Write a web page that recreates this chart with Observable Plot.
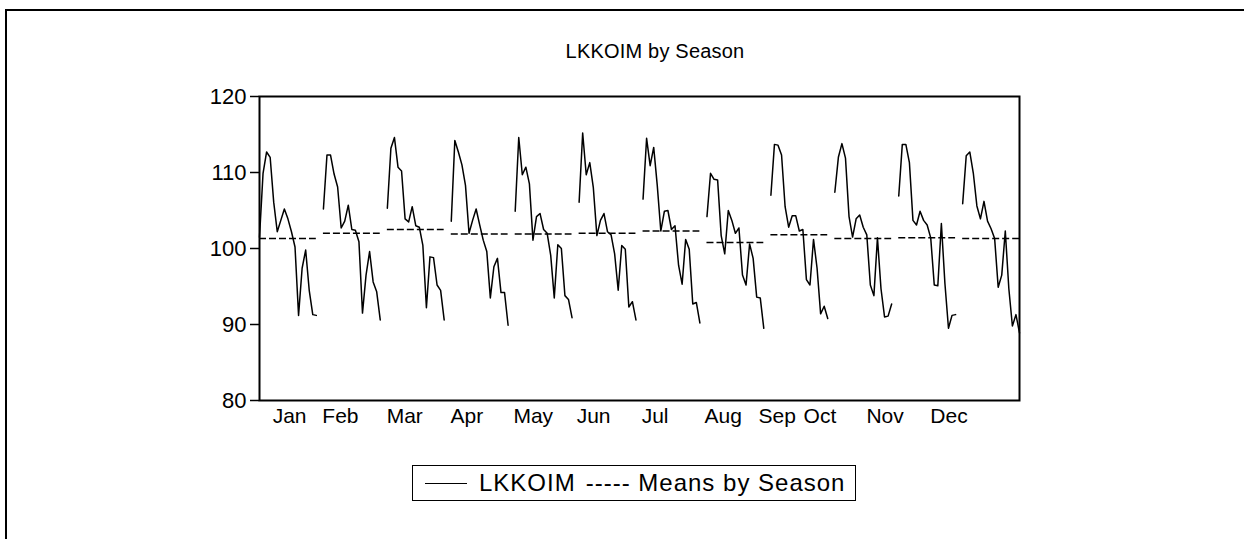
<!DOCTYPE html>
<html>
<head>
<meta charset="utf-8">
<script src="https://cdn.jsdelivr.net/npm/d3@7"></script>
<script src="https://cdn.jsdelivr.net/npm/@observablehq/plot@0.6"></script>
<style>
  html, body { margin: 0; padding: 0; background: #fff; }
  body { width: 1244px; height: 539px; position: relative; overflow: hidden; font-family: "Liberation Sans", Arial, sans-serif; }
  #border { position: absolute; left: 5px; top: 9px; width: 1400px; height: 700px; border: 2px solid #000; }
  #title { position: absolute; left: 275px; width: 760px; top: 40px; text-align: center; font-size: 20px; letter-spacing: 0.2px; color: #000; }
  #chart { position: absolute; left: 0; top: 80px; }
  #legend { position: absolute; left: 412px; top: 465px; width: 444px; height: 36px; border: 1px solid #000; box-sizing: border-box; font-size: 24px; letter-spacing: 1px; display: flex; align-items: center; white-space: nowrap; }
  .sw { display: inline-block; width: 42px; border-top: 1.5px solid #000; margin-left: 12px; margin-right: 12px; }
</style>
</head>
<body>
<div id="border"></div>
<div id="title">LKKOIM by Season</div>
<div id="chart"></div>
<div id="legend"><span class="sw"></span><span>LKKOIM</span><span style="margin-left:10px">----- Means by Season</span></div>
<script>
const months = ["Jan","Feb","Mar","Apr","May","Jun","Jul","Aug","Sep","Oct","Nov","Dec"];
// positions (in observation units along the x axis) where the season labels start
const labelPositions = [3.7, 17.7, 35.8, 53.8, 71.5, 89.3, 107.6, 125.3, 140.5, 153.2, 170.9, 188.9];

const jan = [101.5, 109.9, 112.7, 112.0, 106.1, 102.2, 103.7, 105.2, 103.9, 102.2, 100.2, 91.2, 97.4, 99.8, 94.5, 91.3, 91.2];
const feb = [105.2, 112.3, 112.3, 109.8, 108.1, 102.7, 103.6, 105.7, 102.5, 102.4, 100.9, 91.5, 96.5, 99.6, 95.6, 94.3, 90.6];
const mar = [105.3, 113.2, 114.6, 110.7, 110.2, 103.9, 103.5, 105.5, 103.0, 102.8, 100.4, 92.2, 98.9, 98.8, 95.2, 94.5, 90.6];
const apr = [103.6, 114.2, 112.7, 111.0, 108.3, 102.0, 103.7, 105.2, 103.1, 101.1, 99.6, 93.5, 97.6, 98.7, 94.2, 94.2, 89.9];
const may = [104.9, 114.6, 109.7, 110.7, 108.5, 101.1, 104.2, 104.6, 102.5, 102.0, 99.1, 93.5, 100.5, 100.0, 93.8, 93.3, 90.9];
const jun = [106.1, 115.2, 109.7, 111.3, 108.0, 101.7, 103.7, 104.6, 102.2, 101.8, 99.3, 94.5, 100.4, 99.9, 92.3, 93.0, 90.6];
const jul = [106.5, 114.5, 110.9, 113.3, 108.3, 102.3, 104.9, 105.0, 102.5, 103.0, 97.8, 95.3, 101.2, 99.9, 92.7, 92.9, 90.2];
const aug = [104.2, 109.9, 109.1, 109.0, 101.7, 99.3, 105.0, 103.7, 102.0, 102.7, 96.5, 95.2, 100.6, 98.7, 93.6, 93.5, 89.5];
const sep = [107.0, 113.7, 113.6, 112.3, 105.5, 102.8, 104.3, 104.3, 102.3, 102.5, 95.9, 95.2, 101.2, 97.4, 91.4, 92.4, 90.8];
const oct = [107.4, 112.0, 113.8, 111.9, 104.2, 101.5, 103.9, 104.4, 102.8, 101.8, 95.2, 93.8, 101.4, 94.7, 91.0, 91.1, 92.7];
const nov = [106.9, 113.7, 113.7, 111.3, 103.7, 103.1, 104.9, 103.7, 103.1, 101.4, 95.2, 95.1, 103.3, 95.4, 89.5, 91.2, 91.3];
const dec = [105.9, 112.2, 112.7, 109.9, 105.6, 103.9, 106.2, 103.6, 102.6, 101.3, 94.9, 96.5, 102.3, 94.7, 89.8, 91.3, 88.9];

const seasonMeans = [101.3, 102.0, 102.5, 101.9, 101.9, 102.0, 102.3, 100.8, 101.8, 101.3, 101.4, 101.3];
const yTicks = [80, 90, 100, 110, 120];

const series = [jan, feb, mar, apr, may, jun, jul, aug, sep, oct, nov, dec];
const SLOT = 18; // observations per season block incl. gap
const rows = [];
series.forEach((vals, m) => vals.forEach((v, j) => rows.push({month: months[m], x: m * SLOT + j, value: v})));
const meanRows = seasonMeans.map((v, m) => ({month: months[m], x1: m * SLOT, x2: m * SLOT + series[m].length - 1, value: v}));

const chart = Plot.plot({
  width: 1244,
  height: 360,
  marginLeft: 259,
  marginRight: 225,
  marginTop: 16,
  marginBottom: 40,
  style: {fontFamily: '"Liberation Sans", Arial, sans-serif', fontSize: "21px", color: "#000", background: "transparent"},
  x: {domain: [0, 11 * SLOT + 16]},
  y: {domain: [80, 120]},
  marks: [
    Plot.axisY({ticks: yTicks, tickSize: 9, tickPadding: 4, label: null, fontSize: 22, strokeWidth: 1.5}),
    Plot.axisX({ticks: labelPositions, tickSize: 0, tickPadding: 8, textAnchor: "start", label: null, fontSize: 21, tickFormat: d => months[labelPositions.indexOf(d)]}),
    Plot.ruleY(meanRows, {y: "value", x1: "x1", x2: "x2", stroke: "#000", strokeWidth: 1.5, strokeDasharray: "7,3"}),
    Plot.line(rows, {x: "x", y: "value", z: "month", stroke: "#000", strokeWidth: 1.5}),
    Plot.frame({stroke: "#000", strokeWidth: 2})
  ]
});
document.getElementById("chart").appendChild(chart);
</script>
</body>
</html>
